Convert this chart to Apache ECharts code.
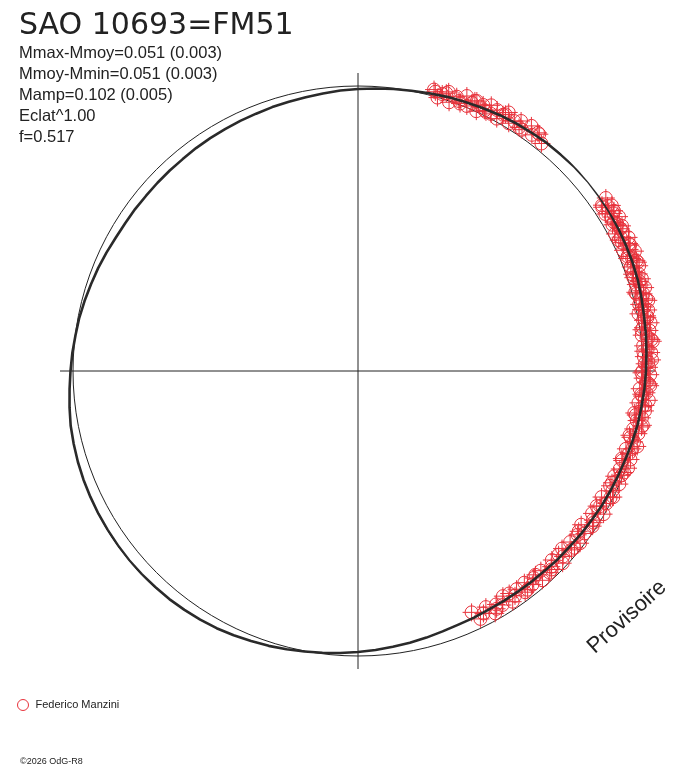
<!DOCTYPE html>
<html>
<head>
<meta charset="utf-8">
<script src="https://cdn.jsdelivr.net/npm/echarts@6/dist/echarts.min.js"></script>
<style>
html,body{margin:0;padding:0;background:#fff;}
#chart{width:688px;height:768px;}
</style>
</head>
<body>
<div id="chart"></div>
<script>
// ---- texts ----
const titleText = 'SAO 10693=FM51';
const infoLines = ['Mmax-Mmoy=0.051 (0.003)', 'Mmoy-Mmin=0.051 (0.003)', 'Mamp=0.102 (0.005)', 'Eclat^1.00', 'f=0.517'];
const observerName = 'Federico Manzini';
const copyrightText = '\u00A92026 OdG-R8';
const stampText = 'Provisoire';

// ---- fitted light curve: phase (0..1, clockwise from top) and brightness deviation (mag, + = brighter, outward) ----
const fitPhase = [
 0.00,0.01,0.02,0.03,0.04,0.05,0.06,0.07,0.08,0.09,0.10,0.11,0.12,0.13,0.14,0.15,0.16,0.17,0.18,0.19,
 0.20,0.21,0.22,0.23,0.24,0.25,0.26,0.27,0.28,0.29,0.30,0.31,0.32,0.33,0.34,0.35,0.36,0.37,0.38,0.39,
 0.40,0.41,0.42,0.43,0.44,0.45,0.46,0.47,0.48,0.49,0.50,0.51,0.52,0.53,0.54,0.55,0.56,0.57,0.58,0.59,
 0.60,0.61,0.62,0.63,0.64,0.65,0.66,0.67,0.68,0.69,0.70,0.71,0.72,0.73,0.74,0.75,0.76,0.77,0.78,0.79,
 0.80,0.81,0.82,0.83,0.84,0.85,0.86,0.87,0.88,0.89,0.90,0.91,0.92,0.93,0.94,0.95,0.96,0.97,0.98,0.99,1.00];
const fitMag = [
 -0.012,-0.008,-0.003,0.001,0.007,0.013,0.018,0.024,0.030,0.035,0.039,0.044,0.046,0.050,0.052,0.051,0.050,0.047,0.044,0.041,
 0.037,0.031,0.025,0.021,0.016,0.012,0.008,0.003,-0.001,-0.007,-0.013,-0.018,-0.022,-0.026,-0.031,-0.035,-0.040,-0.042,-0.046,-0.048,
 -0.050,-0.051,-0.052,-0.050,-0.049,-0.045,-0.039,-0.033,-0.028,-0.022,-0.016,-0.010,-0.004,0.002,0.009,0.016,0.022,0.028,0.034,0.038,
 0.041,0.044,0.045,0.047,0.048,0.047,0.046,0.045,0.043,0.041,0.038,0.034,0.030,0.023,0.016,0.010,0.005,-0.001,-0.005,-0.011,
 -0.017,-0.022,-0.028,-0.034,-0.037,-0.038,-0.040,-0.040,-0.040,-0.040,-0.038,-0.037,-0.036,-0.034,-0.033,-0.030,-0.028,-0.025,-0.021,-0.016,-0.012];

// ---- observations (Federico Manzini) ----
const obsPhase = [
 0.042,0.045,0.047,0.050,0.052,0.055,0.057,0.060,0.062,0.064,0.066,0.068,0.070,0.072,0.074,0.076,0.078,0.080,0.082,0.084,
 0.087,0.089,0.092,0.095,0.098,0.101,0.104,0.108,
 0.153,0.155,0.157,0.158,0.160,0.162,0.163,0.165,0.167,0.168,0.170,0.172,0.173,0.175,0.177,0.178,0.180,0.182,0.183,0.185,
 0.187,0.188,0.190,0.192,0.193,0.195,0.197,0.198,0.200,0.202,0.203,0.205,0.207,0.208,0.210,0.212,0.213,0.215,0.217,0.218,
 0.220,0.222,0.224,0.226,0.228,0.230,0.232,0.234,0.236,0.238,0.240,0.242,0.244,0.246,0.248,0.250,0.252,0.254,0.256,0.258,
 0.260,0.262,0.264,0.266,0.268,0.270,0.272,0.274,0.276,0.278,0.280,0.283,0.285,0.287,0.290,0.292,0.295,0.297,0.300,0.302,
 0.305,0.307,0.310,0.312,0.315,0.318,0.320,0.323,0.326,0.328,0.331,0.334,0.337,0.340,0.343,0.346,0.349,0.352,0.355,0.358,
 0.361,0.364,0.367,0.370,0.373,0.376,0.379,0.382,0.385,0.388,0.391,0.394,0.397,0.400,0.403,0.406,0.409,0.412,0.415,0.418,
 0.421,0.424,0.427,0.430,
 0.043,0.049,0.058,0.065,0.073,0.083,0.093,0.103,
 0.156,0.161,0.166,0.171,0.176,0.181,0.186,0.191,0.196,0.201,0.206,0.211,0.216,0.221,0.227,0.233,0.239,0.245,0.251,0.257,
 0.263,0.269,0.275,0.281,0.288,0.294,0.301,0.308,0.316,0.324,0.332,0.341,0.350,0.359,0.368,0.377,0.386,0.395,0.405,0.416];
const obsMag = [
 0.026,-0.001,0.018,0.034,-0.005,0.026,0.013,0.043,0.006,0.025,0.040,0.002,0.036,0.019,0.049,0.018,0.043,0.012,0.038,0.057,
 0.020,0.039,0.054,0.027,0.061,0.033,0.053,0.029,
 0.069,0.040,0.057,0.072,0.032,0.060,0.045,0.073,0.034,0.052,0.065,0.025,0.057,0.039,0.067,0.034,0.058,0.025,0.050,0.067,
 0.027,0.045,0.058,0.028,0.061,0.031,0.048,0.023,0.054,0.024,0.042,0.056,0.015,0.043,0.027,0.055,0.016,0.033,0.046,0.005,
 0.037,0.018,0.046,0.013,0.037,0.004,0.028,0.045,0.005,0.022,0.035,0.005,0.037,0.007,0.024,-0.002,0.029,-0.001,0.016,0.030,
 -0.011,0.017,0.001,0.029,-0.011,0.006,0.019,-0.022,0.011,-0.008,0.020,-0.015,0.009,-0.024,0.000,0.017,-0.024,-0.007,0.006,-0.024,
 0.008,-0.022,-0.006,-0.032,-0.001,-0.032,-0.015,-0.001,-0.043,-0.014,-0.031,-0.003,-0.044,-0.027,-0.015,-0.056,-0.025,-0.044,-0.016,-0.050,
 -0.026,-0.058,-0.034,-0.017,-0.057,-0.040,-0.027,-0.057,-0.024,-0.054,-0.037,-0.063,-0.031,-0.061,-0.043,-0.029,-0.069,-0.040,-0.055,-0.026,
 -0.066,-0.048,-0.034,-0.073,
 0.019,0.026,0.005,0.037,0.016,0.044,0.028,0.054,
 0.036,0.068,0.044,0.055,0.027,0.060,0.032,0.061,0.023,0.042,0.013,0.048,0.019,0.037,0.006,0.040,0.004,0.022,-0.006,0.025,
 -0.003,0.018,-0.015,0.016,-0.018,0.001,-0.028,-0.001,-0.030,-0.010,-0.043,-0.019,-0.049,-0.022,-0.052,-0.031,-0.059,-0.033,-0.064,-0.039];

// ---- scale ----
const magMin = -1.14, magMax = 0.052;

const RED = '#e8333c';
const INK = '#222222';
const markerPath = 'path://M2.5,9 A6.5,6.5 0 1,1 15.5,9 A6.5,6.5 0 1,1 2.5,9 Z M9,0 L9,18 M0,9 L18,9';

const chart = echarts.init(document.getElementById('chart'));
chart.setOption({
  backgroundColor: '#ffffff',
  animation: false,
  title: [
    { text: titleText, left: 19, top: 11, padding: 0,
      textStyle: { fontFamily: 'DejaVu Sans', fontSize: 30, fontWeight: 'normal', color: INK } },
    { text: infoLines.join('\n'), left: 19, top: 43, padding: 0,
      textStyle: { fontFamily: 'Liberation Sans', fontSize: 16.5, fontWeight: 'normal', color: INK, lineHeight: 21 } }
  ],
  legend: {
    left: 17, top: 699, padding: 0, itemWidth: 11, itemHeight: 11,
    textStyle: { fontFamily: 'Liberation Sans', fontSize: 11, color: INK, padding: [0, 0, 0, 2] },
    data: [{ name: observerName, icon: 'circle',
             itemStyle: { color: 'rgba(0,0,0,0)', borderColor: RED, borderWidth: 1 } }]
  },
  polar: [
    { center: [358, 371], radius: [0, 298] },
    { center: [358, 371], radius: [0, 285] }
  ],
  angleAxis: [
    { polarIndex: 0, type: 'value', min: 0, max: 1, interval: 0.25, startAngle: 90, clockwise: true,
      axisLine: { show: false }, axisTick: { show: false }, axisLabel: { show: false },
      splitLine: { show: true, lineStyle: { color: INK, width: 1 } } },
    { polarIndex: 1, type: 'value', min: 0, max: 1, startAngle: 90, clockwise: true,
      axisLine: { show: true, lineStyle: { color: INK, width: 1 } }, axisTick: { show: false },
      axisLabel: { show: false }, splitLine: { show: false } }
  ],
  radiusAxis: [
    { polarIndex: 0, type: 'value', min: magMin, max: magMax,
      axisLine: { show: false }, axisTick: { show: false }, axisLabel: { show: false }, splitLine: { show: false } },
    { polarIndex: 1, type: 'value', min: 0, max: 1,
      axisLine: { show: false }, axisTick: { show: false }, axisLabel: { show: false }, splitLine: { show: false } }
  ],
  series: [
    { name: observerName, type: 'scatter', coordinateSystem: 'polar', polarIndex: 0, clip: false,
      data: obsPhase.map((p, i) => [obsMag[i], p]),
      symbol: markerPath, symbolSize: 18, z: 3,
      itemStyle: { color: 'rgba(0,0,0,0)', borderColor: RED, borderWidth: 1, opacity: 1 } },
    { name: 'fit', type: 'line', coordinateSystem: 'polar', polarIndex: 0, clip: false,
      data: fitPhase.map((p, i) => [fitMag[i], p]),
      smooth: false, symbol: 'none', z: 4,
      lineStyle: { color: '#2a2a2a', width: 2.6, join: 'round' } }
  ],
  graphic: [
    { type: 'text', x: 627, y: 617, rotation: 42 * Math.PI / 180,
      style: { text: stampText, fontFamily: 'Liberation Sans', fontSize: 22, fill: INK, align: 'center', verticalAlign: 'middle' } },
    { type: 'text', x: 20, y: 762,
      style: { text: copyrightText, fontFamily: 'Liberation Sans', fontSize: 9, fill: INK, align: 'left', verticalAlign: 'middle' } }
  ]
});
</script>
</body>
</html>
